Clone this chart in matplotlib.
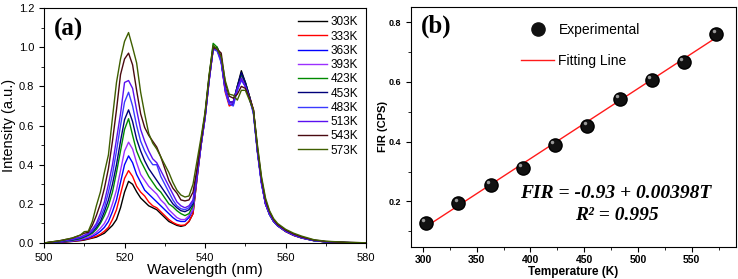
import matplotlib
matplotlib.use('Agg')
import matplotlib.pyplot as plt
from matplotlib.lines import Line2D
from matplotlib.ticker import MultipleLocator, FormatStrFormatter
import matplotlib.transforms as mtransforms

plt.rcParams['font.family'] = ['Liberation Sans', 'DejaVu Sans']

# ---- panel (a): emission spectra ----
wavelength = [500, 504, 507, 509, 510, 511, 512, 513, 514, 515, 516, 517, 518, 519,
              520, 521, 522, 523, 524, 525, 526, 527, 528, 529, 530, 531, 532, 533,
              534, 535, 536, 537, 538, 539, 540, 541, 542, 543, 544, 545, 546, 547,
              548, 549, 550, 551, 552, 553, 554, 555, 556, 557, 558, 560, 562, 564,
              567, 570, 575, 580]

i303 = [0.0, 0.003, 0.008, 0.012, 0.015, 0.02, 0.025, 0.03, 0.04, 0.05, 0.07, 0.09, 0.12, 0.18,
        0.26, 0.315, 0.3, 0.262, 0.23, 0.21, 0.19, 0.18, 0.17, 0.15, 0.13, 0.11, 0.1, 0.09,
        0.085, 0.09, 0.11, 0.15, 0.33, 0.5, 0.65, 0.84, 0.99, 1.0, 0.95, 0.79, 0.71, 0.72,
        0.8, 0.88, 0.82, 0.75, 0.68, 0.48, 0.32, 0.21, 0.15, 0.115, 0.09, 0.06, 0.04, 0.027,
        0.013, 0.006, 0.002, 0.0]
i333 = [0.0, 0.004, 0.009, 0.014, 0.018, 0.022, 0.028, 0.035, 0.045, 0.06, 0.08, 0.12, 0.17, 0.25,
        0.33, 0.37, 0.34, 0.29, 0.26, 0.24, 0.21, 0.19, 0.18, 0.16, 0.14, 0.12, 0.105, 0.095,
        0.09, 0.092, 0.11, 0.15, 0.33, 0.5, 0.64, 0.83, 0.99, 0.99, 0.93, 0.77, 0.7, 0.71,
        0.79, 0.86, 0.81, 0.75, 0.68, 0.47, 0.31, 0.2, 0.145, 0.11, 0.088, 0.058, 0.038, 0.025,
        0.012, 0.006, 0.002, 0.0]
i363 = [0.0, 0.005, 0.01, 0.016, 0.02, 0.026, 0.034, 0.045, 0.06, 0.08, 0.11, 0.16, 0.22, 0.31,
        0.4, 0.445, 0.41, 0.35, 0.31, 0.27, 0.25, 0.23, 0.21, 0.19, 0.17, 0.15, 0.13, 0.115,
        0.11, 0.11, 0.13, 0.17, 0.34, 0.5, 0.64, 0.83, 0.99, 0.99, 0.93, 0.78, 0.71, 0.71,
        0.78, 0.84, 0.8, 0.74, 0.67, 0.47, 0.31, 0.2, 0.145, 0.11, 0.088, 0.06, 0.04, 0.026,
        0.012, 0.006, 0.002, 0.0]
i393 = [0.0, 0.006, 0.012, 0.018, 0.024, 0.03, 0.04, 0.055, 0.075, 0.1, 0.14, 0.2, 0.27, 0.37,
        0.47, 0.515, 0.48, 0.41, 0.35, 0.32, 0.29, 0.27, 0.25, 0.22, 0.2, 0.17, 0.15, 0.13,
        0.12, 0.12, 0.14, 0.17, 0.34, 0.5, 0.64, 0.83, 0.99, 0.99, 0.93, 0.78, 0.71, 0.72,
        0.79, 0.85, 0.8, 0.74, 0.67, 0.47, 0.31, 0.2, 0.15, 0.112, 0.09, 0.06, 0.04, 0.027,
        0.013, 0.006, 0.002, 0.0]
i423 = [0.0, 0.007, 0.014, 0.022, 0.03, 0.038, 0.05, 0.07, 0.1, 0.14, 0.19, 0.26, 0.36, 0.47,
        0.58, 0.635, 0.55, 0.47, 0.42, 0.38, 0.34, 0.31, 0.28, 0.26, 0.23, 0.2, 0.185, 0.165,
        0.15, 0.14, 0.15, 0.19, 0.36, 0.52, 0.66, 0.85, 1.02, 1.0, 0.93, 0.79, 0.72, 0.72,
        0.8, 0.86, 0.82, 0.75, 0.67, 0.47, 0.31, 0.2, 0.145, 0.11, 0.088, 0.06, 0.04, 0.026,
        0.012, 0.006, 0.002, 0.0]
i453 = [0.0, 0.008, 0.016, 0.025, 0.033, 0.042, 0.056, 0.08, 0.11, 0.16, 0.22, 0.3, 0.4, 0.52,
        0.63, 0.68, 0.62, 0.53, 0.47, 0.42, 0.38, 0.35, 0.32, 0.29, 0.26, 0.23, 0.2, 0.18,
        0.165, 0.16, 0.17, 0.2, 0.35, 0.51, 0.65, 0.84, 1.0, 0.99, 0.93, 0.79, 0.72, 0.72,
        0.8, 0.87, 0.82, 0.75, 0.67, 0.47, 0.31, 0.2, 0.148, 0.112, 0.09, 0.06, 0.04, 0.027,
        0.013, 0.006, 0.002, 0.0]
i483 = [0.0, 0.009, 0.018, 0.028, 0.036, 0.046, 0.062, 0.09, 0.13, 0.18, 0.26, 0.35, 0.47, 0.6,
        0.72, 0.77, 0.7, 0.6, 0.52, 0.47, 0.43, 0.4, 0.4, 0.34, 0.3, 0.26, 0.22, 0.19,
        0.175, 0.17, 0.18, 0.21, 0.35, 0.5, 0.64, 0.83, 0.99, 0.98, 0.92, 0.78, 0.71, 0.7,
        0.78, 0.83, 0.8, 0.74, 0.66, 0.46, 0.3, 0.2, 0.145, 0.11, 0.088, 0.06, 0.04, 0.026,
        0.012, 0.006, 0.002, 0.0]
i513 = [0.0, 0.01, 0.02, 0.03, 0.04, 0.05, 0.07, 0.1, 0.15, 0.21, 0.3, 0.4, 0.53, 0.66,
        0.82, 0.83, 0.79, 0.68, 0.58, 0.52, 0.47, 0.43, 0.41, 0.37, 0.33, 0.29, 0.25, 0.21,
        0.19, 0.18, 0.19, 0.22, 0.36, 0.51, 0.65, 0.84, 0.99, 0.99, 0.93, 0.79, 0.72, 0.72,
        0.79, 0.84, 0.8, 0.74, 0.67, 0.47, 0.31, 0.2, 0.15, 0.113, 0.09, 0.062, 0.042, 0.028,
        0.014, 0.007, 0.003, 0.0]
i543 = [0.0, 0.012, 0.025, 0.04, 0.05, 0.055, 0.09, 0.14, 0.2, 0.28, 0.38, 0.52, 0.68, 0.86,
        0.94, 0.97, 0.91, 0.78, 0.66, 0.59, 0.55, 0.52, 0.49, 0.44, 0.38, 0.32, 0.28, 0.255,
        0.22, 0.215, 0.22, 0.26, 0.38, 0.52, 0.66, 0.85, 1.0, 0.99, 0.97, 0.82, 0.75, 0.74,
        0.76, 0.8, 0.79, 0.74, 0.68, 0.49, 0.33, 0.22, 0.16, 0.12, 0.095, 0.066, 0.046, 0.031,
        0.015, 0.008, 0.003, 0.001]
i573 = [0.0, 0.012, 0.025, 0.04, 0.058, 0.06, 0.11, 0.19, 0.26, 0.36, 0.45, 0.64, 0.82, 0.94,
        1.03, 1.075, 1.0, 0.92, 0.77, 0.66, 0.56, 0.51, 0.48, 0.44, 0.4, 0.36, 0.31, 0.27,
        0.245, 0.235, 0.24, 0.3, 0.42, 0.54, 0.67, 0.86, 1.01, 0.99, 0.95, 0.83, 0.76, 0.755,
        0.73, 0.78, 0.78, 0.73, 0.68, 0.5, 0.34, 0.23, 0.165, 0.125, 0.1, 0.07, 0.05, 0.035,
        0.017, 0.009, 0.004, 0.001]

spectra = [i303, i333, i363, i393, i423, i453, i483, i513, i543, i573]
spec_labels = ['303K', '333K', '363K', '393K', '423K', '453K', '483K', '513K', '543K', '573K']
spec_colors = ['#000000', '#ff0000', '#0000ff', '#9b30ff', '#008a00',
               '#00007a', '#3a3aff', '#5a10f0', '#4a0a10', '#3f5f00']

# ---- panel (b): FIR vs temperature ----
temps = [303, 333, 363, 393, 423, 453, 483, 513, 543, 573]
fir = [0.128, 0.196, 0.256, 0.313, 0.389, 0.453, 0.543, 0.607, 0.667, 0.762]
fit_t = [303, 573]
fit_fir = [0.116, 0.749]

fig = plt.figure(figsize=(7.38, 2.79), dpi=100)
axa = fig.add_axes([0.0596, 0.129, 0.4366, 0.842])
axb = fig.add_axes([0.557, 0.115, 0.440, 0.860])

for ys, lab, col in zip(spectra, spec_labels, spec_colors):
    axa.plot(wavelength, ys, color=col, lw=1.0, label=lab)

axa.set_xlim(500, 580)
axa.set_ylim(0, 1.2)
axa.xaxis.set_major_locator(MultipleLocator(20))
axa.xaxis.set_minor_locator(MultipleLocator(10))
axa.yaxis.set_major_locator(MultipleLocator(0.2))
axa.yaxis.set_minor_locator(MultipleLocator(0.1))
axa.yaxis.set_major_formatter(FormatStrFormatter('%.1f'))
axa.tick_params(which='both', direction='out', labelsize=8)
axa.tick_params(which='major', length=3.5)
axa.tick_params(which='minor', length=2)
axa.set_xlabel('Wavelength (nm)', fontsize=11, labelpad=0)
axa.set_ylabel('Intensity (a.u.)', fontsize=10.5, labelpad=2)
axa.text(0.03, 0.96, '(a)', transform=axa.transAxes, fontsize=18, fontweight='bold',
         family='Liberation Serif', va='top', ha='left')
axa.legend(loc='upper right', bbox_to_anchor=(1.0, 1.0), frameon=False, fontsize=8.5,
           handlelength=2.4, handletextpad=0.3, labelspacing=0.19, borderaxespad=0.3)

# experimental points, with a small highlight to give them a shaded look
axb.plot(fit_t, fit_fir, color='#ff1a1a', lw=1.0, zorder=2)
axb.plot(temps, fir, 'o', ms=9.5, color='#111111', mec='#000000', zorder=3)
hl = mtransforms.offset_copy(axb.transData, fig=fig, x=-2, y=2, units='points')
axb.plot(temps, fir, 'o', ms=2.5, color='#9a9a9a', mec='none', transform=hl, zorder=4)

axb.set_xlim(289, 591)
axb.set_ylim(0.048, 0.851)
axb.xaxis.set_major_locator(MultipleLocator(50))
axb.xaxis.set_minor_locator(MultipleLocator(25))
axb.yaxis.set_major_locator(MultipleLocator(0.2))
axb.yaxis.set_minor_locator(MultipleLocator(0.1))
axb.tick_params(which='both', direction='out')
axb.tick_params(axis='x', labelsize=7.5, pad=2)
axb.tick_params(axis='y', labelsize=6.5)
axb.tick_params(which='major', length=3.5)
axb.tick_params(which='minor', length=2)
for lbl in axb.get_xticklabels() + axb.get_yticklabels():
    lbl.set_fontweight('bold')
axb.set_xlabel('Temperature (K)', fontsize=8.5, fontweight='bold', labelpad=1)
axb.set_ylabel('FIR (CPS)', fontsize=8, fontweight='bold', labelpad=0.5)
axb.text(0.03, 0.97, '(b)', transform=axb.transAxes, fontsize=18, fontweight='bold',
         family='Liberation Serif', va='top', ha='left')

handles = [Line2D([], [], marker='o', ls='none', ms=9.5, color='#111111'),
           Line2D([], [], color='#ff1a1a', lw=1.0)]
axb.legend(handles, ['Experimental', 'Fitting Line'], loc='upper left',
           bbox_to_anchor=(0.3, 0.985), frameon=False, fontsize=10,
           handlelength=2.4, handletextpad=0.3, labelspacing=1.2)

axb.text(0.631, 0.221, 'FIR = -0.93 + 0.00398T', transform=axb.transAxes,
         ha='center', va='center', fontsize=14, family='Liberation Serif',
         fontweight='bold', style='italic')
axb.text(0.634, 0.133, 'R\u00b2 = 0.995', transform=axb.transAxes, ha='center', va='center',
         fontsize=14, family='Liberation Serif', fontweight='bold', style='italic')

fig.savefig('out.png', dpi=100)
